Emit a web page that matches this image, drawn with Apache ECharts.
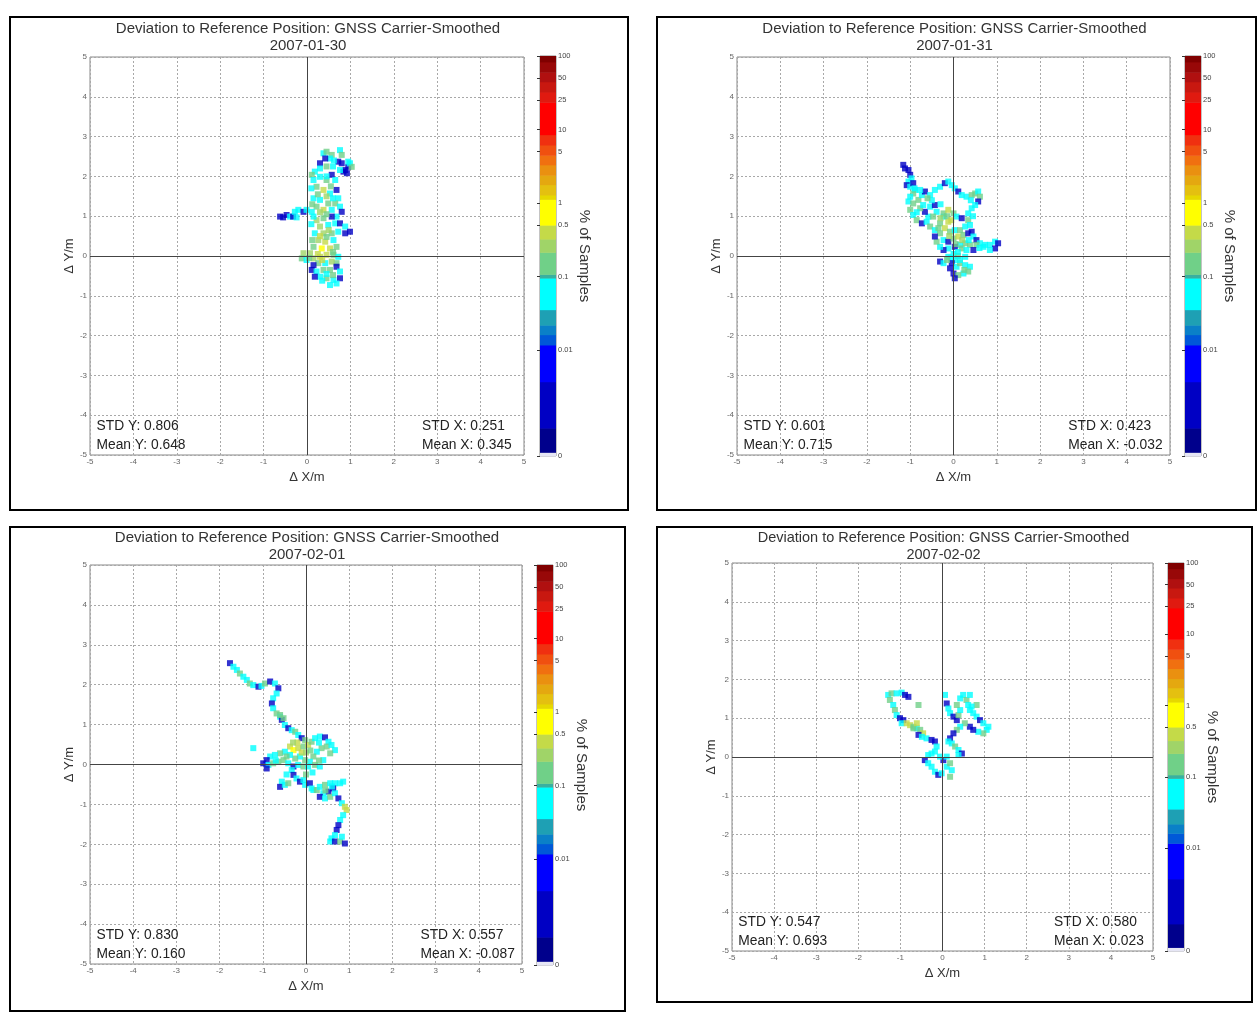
<!DOCTYPE html>
<html>
<head>
<meta charset="utf-8">
<script src="https://cdn.jsdelivr.net/npm/echarts@6/dist/echarts.min.js"></script>
<style>
  html, body { margin: 0; padding: 0; background: #fff; }
  #chart { width: 1258px; height: 1012px; }
</style>
</head>
<body>
<div id="chart"></div>
<script>
// sample share levels (% of samples)
const B = 0.003, T = 0.02, C = 0.06, G = 0.15, L = 0.25, Y = 0.4, W = 0.7;

const dates = ["2007-01-30", "2007-01-31", "2007-02-01", "2007-02-02"];
const stdY = ["0.806", "0.601", "0.830", "0.547"];
const meanY = ["0.648", "0.715", "0.160", "0.693"];
const stdX = ["0.251", "0.423", "0.557", "0.580"];
const meanX = ["0.345", "-0.032", "-0.087", "0.023"];

// [dx, dy, % of samples]
const points0130 = [
  [0.38,2.58,C],[0.45,2.62,G],[0.57,2.54,G],[0.53,2.45,C],[0.42,2.45,B],[0.76,2.66,C],[0.8,2.54,G],
  [0.72,2.37,B],[0.8,2.33,B],[0.88,2.16,B],[0.95,2.24,B],[0.99,2.33,C],[1.03,2.24,G],[0.92,2.08,B],
  [0.84,2.12,B],[0.76,2.16,C],[0.95,2.37,C],[0.3,2.33,B],[0.18,2.12,C],[0.11,2.04,G],[0.15,1.91,C],
  [0.3,1.99,C],[0.45,1.91,G],[0.57,2.04,B],[0.65,1.91,C],[0.22,1.74,G],[0.38,1.66,Y],[0.53,1.57,C],
  [0.68,1.66,B],[0.72,1.45,C],[0.65,1.32,G],[0.49,1.32,G],[0.3,1.41,C],[0.15,1.45,C],[0.22,1.24,G],
  [0.38,1.16,Y],[0.57,1.16,C],[0.76,1.24,C],[0.8,1.11,B],[0.68,0.99,C],[0.57,0.99,B],[0.38,0.95,G],
  [0.22,0.9,L],[0.15,0.99,C],[0.3,0.74,L],[0.49,0.78,C],[0.65,0.82,C],[0.76,0.82,B],[0.88,0.74,C],
  [0.99,0.61,B],[0.88,0.57,B],[0.72,0.61,C],[0.57,0.57,G],[0.38,0.57,L],[0.18,0.57,C],[0.26,0.4,L],
  [0.42,0.36,Y],[0.61,0.4,C],[0.68,0.23,G],[0.53,0.19,Y],[0.34,0.19,W],[0.15,0.23,G],[0.07,0.07,L],
  [-0.08,0.07,L],[-0.12,-0.06,G],[-0.01,-0.1,C],[0.15,-0.06,L],[0.3,-0.02,Y],[0.45,0.03,Y],[0.61,0.03,G],
  [0.72,-0.02,C],[0.68,-0.18,G],[0.57,-0.14,L],[0.42,-0.18,C],[0.26,-0.18,G],[0.15,-0.23,B],[0.11,-0.35,B],
  [0.22,-0.39,C],[0.38,-0.35,G],[0.53,-0.35,G],[0.68,-0.27,B],[0.76,-0.39,C],[0.76,-0.56,B],[0.61,-0.6,C],
  [0.45,-0.56,G],[0.3,-0.52,C],[0.18,-0.52,B],[0.53,-0.73,C],[0.68,-0.69,C],
  [-0.62,0.99,B],[-0.55,0.97,B],[-0.47,1.03,B],[-0.39,0.99,C],[-0.32,0.99,B],[-0.24,0.97,C],[-0.28,1.11,C],
  [-0.2,1.16,C],[-0.08,1.11,B],[-0.01,1.16,C],[0.11,1.11,C],
  [0.3,2.2,C],[0.45,2.25,G],[0.6,2.25,C],[0.45,2.0,C],[0.25,1.55,G],[0.45,1.5,L],[0.6,1.45,C],[0.3,1.1,L],
  [0.45,1.05,G],[0.5,0.65,L],[0.3,0.5,Y],[0.45,0.48,G],[0.6,0.1,G],[0.25,0.05,Y],[0.05,-0.05,G],[0.35,-0.1,Y],
  [0.45,-0.45,C],[0.6,-0.48,G],[0.35,-0.62,C],[0.1,1.7,C],[0.12,1.3,G],[0.1,0.8,C],[0.12,0.4,G],[0.55,1.75,G],
  [0.62,2.4,C]
];
const points0131 = [
  [-1.16,2.29,B],[-1.12,2.2,B],[-1.04,2.16,B],[-1.0,2.04,B],[-0.97,1.95,C],[-1.04,1.87,C],[-1.08,1.78,B],
  [-1.0,1.74,C],[-0.93,1.83,B],[-0.89,1.66,C],[-0.93,1.57,G],[-1.0,1.49,C],[-1.04,1.37,C],[-0.93,1.32,G],
  [-0.81,1.41,G],[-0.73,1.53,C],[-0.66,1.62,B],[-0.77,1.66,C],
  [-0.54,1.53,C],[-0.43,1.66,C],[-0.31,1.74,C],[-0.2,1.83,B],[-0.12,1.87,C],[-0.04,1.78,C],[0.03,1.7,C],
  [0.11,1.62,B],[0.19,1.53,C],[0.3,1.49,C],[0.42,1.53,G],[0.5,1.57,G],[0.57,1.62,C],[0.61,1.49,G],
  [0.57,1.37,B],[0.5,1.28,C],[0.42,1.2,C],[0.34,1.07,C],[0.34,0.9,G],[0.38,0.78,C],
  [-1.0,1.16,G],[-0.93,1.03,C],[-0.85,0.9,G],[-0.73,0.82,B],[-0.62,0.86,C],[-0.58,0.99,C],[-0.66,1.11,B],
  [-0.77,1.2,G],[-0.7,1.28,C],[-0.54,1.24,C],[-0.43,1.28,B],[-0.39,1.11,C],[-0.47,0.99,G],[-0.54,0.74,G],
  [-0.43,0.65,C],[-0.31,0.82,G],[-0.23,0.99,C],
  [-0.23,1.07,G],[-0.12,1.16,Y],[0,1.07,G],[0.07,0.99,C],[0.19,0.95,B],[-0.12,0.86,Y],[-0.2,0.7,Y],
  [-0.08,0.61,G],[0.03,0.65,C],[0.15,0.65,G],[0.27,0.74,C],[-0.31,0.57,G],[-0.23,0.4,C],[-0.12,0.36,B],
  [0,0.44,G],[0.11,0.49,Y],[0.23,0.53,G],[0.34,0.57,B],[0.42,0.61,B],[0.46,0.49,C],[0.53,0.4,B],
  [0.61,0.32,C],[0.73,0.28,C],[0.84,0.28,C],[0.96,0.36,C],[1.03,0.32,B],[0.96,0.19,B],[0.84,0.15,C],
  [0.69,0.23,C],[0.53,0.28,G],[0.38,0.28,G],[0.27,0.32,G],[0.15,0.28,C],[0.03,0.23,B],[-0.12,0.19,C],
  [-0.23,0.15,B],[-0.31,0.23,C],[-0.39,0.36,G],[-0.43,0.49,B],[0.19,0.19,G],[0.3,0.15,C],[0.46,0.15,B],
  [0,0.05,C],[0.1,0.0,G],[-0.05,-0.05,C],
  [0.03,-0.1,C],[-0.04,-0.18,B],[-0.08,-0.31,B],[0,-0.44,B],[0.07,-0.27,C],[0.15,-0.18,G],[0.27,-0.23,C],
  [0.38,-0.27,C],[0.34,-0.39,G],[0.23,-0.44,C],[0.11,-0.48,G],[0.03,-0.56,B],[-0.31,-0.14,B],[-0.23,-0.18,C],
  [-0.12,-0.02,C],[0.27,-0.02,C],
  [-0.5,1.4,C],[-0.6,1.45,G],[-0.3,1.3,C],[-0.15,1.0,G],[-0.05,0.9,Y],[-0.3,0.95,L],[-0.35,0.7,G],[-0.1,0.5,L],
  [0.05,0.3,G],[0.1,0.1,C],[0.2,0.4,L],[0.35,0.4,C],[0.15,-0.1,C],[-0.15,-0.1,G],[0.25,-0.35,G],[0.6,0.2,C],
  [0.4,1.4,C],[0.45,1.0,C],[-0.85,1.1,C],[-0.9,1.7,C]
];
const points0201 = [
  [-1.76,2.54,B],[-1.68,2.45,C],[-1.6,2.37,C],[-1.53,2.28,G],[-1.45,2.2,C],[-1.37,2.12,C],[-1.3,2.03,G],
  [-1.22,1.99,C],[-1.1,1.95,B],[-1.03,1.97,C],[-0.95,2.03,G],[-0.83,2.08,B],[-0.72,2.03,C],[-0.64,1.91,B],
  [-0.68,1.78,C],[-0.76,1.66,C],[-0.79,1.53,B],[-0.76,1.41,C],[-0.68,1.28,G],[-0.6,1.2,C],[-0.56,1.12,B],
  [-0.49,0.99,C],[-0.41,0.91,B],[-0.33,0.86,C],[-0.25,0.82,G],[-0.18,0.74,C],[-0.1,0.66,B],[-0.02,0.61,G],
  [-0.6,1.24,G],[-0.52,1.16,G],
  [-0.37,0.45,Y],[-0.29,0.36,W],[-0.18,0.41,Y],[-0.06,0.45,G],[0.05,0.49,Y],[0.13,0.57,G],[0.21,0.66,C],
  [0.32,0.7,C],[0.44,0.68,B],[0.52,0.57,C],[0.48,0.45,G],[0.36,0.41,G],[0.25,0.32,C],[0.17,0.2,G],
  [0.09,0.07,C],[-0.02,0.11,G],[-0.14,0.2,C],[-0.25,0.15,G],[-0.37,0.24,C],[-0.49,0.32,C],[-0.6,0.28,G],
  [-0.72,0.24,C],[-0.83,0.2,C],[-0.91,0.11,B],[-0.99,0.03,B],[-0.87,-0.01,C],[-0.76,0.03,G],[-0.64,0.07,G],
  [-0.52,0.11,G],[-0.41,0.03,C],[-0.29,-0.05,B],[-0.18,-0.01,C],[-0.06,-0.05,G],[0.05,-0.05,C],[0.21,-0.01,G],
  [0.32,-0.05,C],[0.4,0.11,C],[0.59,0.49,C],[0.67,0.36,C],[-1.22,0.41,C],[0.56,0.28,G],
  [-0.91,-0.1,B],[-0.33,-0.14,C],[-0.29,-0.26,B],[-0.22,-0.35,C],[-0.14,-0.43,B],[-0.06,-0.39,C],[-0.56,-0.43,C],
  [-0.6,-0.56,B],[-0.49,-0.51,C],[-0.41,-0.47,G],[-0.02,-0.51,C],[0.09,-0.47,B],[0.13,-0.6,C],[0.17,-0.64,C],
  [0.25,-0.64,G],[0.32,-0.56,C],[0.44,-0.51,G],[0.56,-0.47,C],[0.67,-0.47,C],[0.79,-0.47,C],[0.86,-0.43,C],
  [0.63,-0.6,B],[0.52,-0.68,B],[0.4,-0.72,C],[0.32,-0.81,B],[0.44,-0.85,C],[0.56,-0.81,G],[0.67,-0.72,C],
  [0.75,-0.85,B],[0.83,-0.97,C],[0.9,-1.06,Y],[0.94,-1.14,Y],[0.86,-1.27,C],[0.79,-1.39,C],[0.75,-1.52,B],
  [0.71,-1.64,B],[0.67,-1.77,C],[0.59,-1.85,C],[0.56,-1.93,C],[0.67,-1.93,B],[0.79,-1.93,G],[0.9,-1.98,B],
  [0.83,-1.81,C],
  [-0.2,0.55,Y],[-0.1,0.3,Y],[0.0,0.3,L],[-0.3,0.55,L],[0.1,0.35,G],[0.3,0.55,C],[-0.45,0.2,G],[-0.7,0.1,C],
  [0.3,0.1,G],[0.15,-0.2,C],[-0.45,-0.25,C],[0.0,-0.25,G],[0.6,-0.55,C],[0.45,-0.65,G]
];
const points0202 = [
  [-1.29,1.6,C],[-1.21,1.64,G],[-1.09,1.64,C],[-0.97,1.66,C],[-0.89,1.6,B],[-0.81,1.55,B],[-1.25,1.47,G],
  [-1.17,1.34,C],[-1.13,1.21,G],[-1.09,1.08,C],[-1.01,1.0,B],[-0.93,0.95,B],[-0.97,0.87,C],[-0.85,0.87,Y],
  [-0.77,0.82,Y],[-0.69,0.78,G],[-0.61,0.74,C],[-0.53,0.7,G],[-0.46,0.61,Y],[-0.57,0.57,B],[-0.49,0.52,C],
  [-0.38,0.48,C],[-0.26,0.44,B],[-0.18,0.4,B],[-0.14,0.27,C],[-0.18,0.14,C],[-0.26,0.09,C],[-0.34,0.05,C],
  [-0.42,-0.08,B],[-0.34,-0.16,C],[-0.26,-0.25,C],[-0.18,-0.38,C],[-0.1,-0.46,B],[-0.02,-0.42,C],[0.1,-0.25,C],
  [0.18,-0.16,G],[0.22,-0.34,C],[0.18,-0.51,G],[0.02,-0.08,B],[-0.06,0.01,C],[0.1,0.01,C],[-0.57,1.34,G],
  [-0.69,0.74,G],[-0.61,0.87,Y],
  [0.06,1.6,C],[0.1,1.38,B],[0.14,1.25,C],[0.18,1.13,C],[0.26,1.04,B],[0.34,0.95,B],[0.38,1.08,G],
  [0.42,1.21,C],[0.34,1.34,G],[0.42,1.51,C],[0.49,1.6,C],[0.57,1.47,G],[0.61,1.34,C],[0.65,1.21,C],
  [0.73,1.13,C],[0.81,1.04,C],[0.89,0.95,B],[0.97,0.87,C],[1.09,0.78,C],[1.05,0.7,C],[0.97,0.61,G],
  [0.85,0.65,C],[0.73,0.7,B],[0.65,0.78,B],[0.53,0.87,G],[0.42,0.78,C],[0.34,0.7,G],[0.26,0.61,B],
  [0.18,0.48,B],[0.14,0.4,C],[0.22,0.35,C],[0.3,0.27,G],[0.38,0.18,C],[0.46,0.09,B],[0.38,0.05,C],
  [0.65,1.6,C],[0.81,1.34,G],[0.69,1.3,C]
];
const allPoints = [points0130, points0131, points0201, points0202];

// colorbar: band edges in log10(% of samples), colours bottom -> top
const cbEdges = [-3.44,-3.39,-3.06,-2.43,-1.93,-1.79,-1.66,-1.45,-1.02,-0.97,-0.67,-0.49,-0.30,0.05,
  0.11,0.25,0.38,0.52,0.65,0.79,0.93,1.37,1.51,1.65,1.78,1.92,2.0];
const cbColors = ["#e6e6f5","#00008c","#0000c4","#0000ff","#0058d8","#0a80c8","#1ea0b4","#00ffff","#38b0a0",
  "#70d088","#a0d468","#c4da48","#ffff00","#e6d800","#e4c010","#e4a810","#ea9010","#f07010","#f05010",
  "#f03010","#ff0000","#e01a10","#c81810","#b01010","#980808","#800000"];
const cbTickValues = [100, 50, 25, 10, 5, 1, 0.5, 0.1, 0.01, 0];
const cbTickLabels = ["100", "50", "25", "10", "5", "1", "0.5", "0.1", "0.01", "0"];

const FONT = "'Liberation Sans', Arial, sans-serif";
const cbMin = cbEdges[0], cbMax = cbEdges[cbEdges.length - 1];
const toLog = v => (v <= 0 ? cbMin : Math.log10(v));
const cbTickLogs = cbTickValues.map(toLog);

function bandColor(pct) {
  const v = toLog(pct);
  for (let k = 0; k < cbColors.length; k++) {
    if (v < cbEdges[k + 1]) return cbColors[k];
  }
  return cbColors[cbColors.length - 1];
}

// panel layout (px)
const panels = [
  { frame: [10, 17, 618, 493], grid: [90, 57, 434, 398], cb: [540, 56, 16, 400], titleTop: 15 },
  { frame: [657, 17, 599, 493], grid: [737, 57, 433, 398], cb: [1185, 56, 16, 400], titleTop: 15 },
  { frame: [10, 527, 615, 484], grid: [90, 565, 432, 399], cb: [537, 565, 16, 400], titleTop: 524 },
  { frame: [657, 527, 595, 475], grid: [732, 563, 421, 388], cb: [1168, 563, 16, 388], titleTop: 524 }
];

const grids = [], xAxes = [], yAxes = [], series = [], titles = [], frames = [];

panels.forEach((p, i) => {
  const [gl, gt, gw, gh] = p.grid;
  grids.push({ left: gl, top: gt, width: gw, height: gh, show: true, borderColor: "#888", borderWidth: 1 });
  titles.push({
    text: "Deviation to Reference Position: GNSS Carrier-Smoothed\n" + dates[i],
    left: gl + gw / 2 - 4, top: p.titleTop, textAlign: "center",
    textStyle: { fontSize: i === 3 ? 14.5 : 15, fontWeight: "normal", color: "#333", lineHeight: 17, fontFamily: FONT, align: "center" }
  });
  const mainAxis = (name, gap, rot) => ({
    type: "value", gridIndex: i, min: -5, max: 5, interval: 1,
    axisLine: { show: false }, axisTick: { show: false },
    axisLabel: { fontSize: 8, color: "#666", margin: 3, fontFamily: FONT },
    splitLine: { show: true, lineStyle: { color: "#a8a8a8", type: [2, 2], width: 1 } },
    name: name, nameLocation: "middle", nameGap: gap, nameRotate: rot,
    nameTextStyle: { fontSize: 13, color: "#333", fontFamily: FONT }
  });
  xAxes.push(mainAxis("\u0394 X/m", 16, 0));
  yAxes.push(mainAxis("\u0394 Y/m", 13, 90));
  series.push({
    type: "scatter", xAxisIndex: i, yAxisIndex: i,
    symbol: "rect", symbolSize: 6,
    data: allPoints[i],
    itemStyle: { color: d => bandColor(d.value[2]) },
    markLine: {
      silent: true, symbol: "none", label: { show: false },
      lineStyle: { color: "#444", type: "solid", width: 1 },
      data: [{ xAxis: 0 }, { yAxis: 0 }]
    }
  });
  const [fl, ft, fw, fh] = p.frame;
  frames.push({ type: "rect", shape: { x: fl, y: ft, width: fw, height: fh }, style: { fill: "none", stroke: "#000", lineWidth: 2 }, silent: true });
});

// colorbars
panels.forEach((p, i) => {
  const [cl, ct, cw, ch] = p.cb;
  grids.push({ left: cl, top: ct, width: cw, height: ch, show: true, borderColor: "#888", borderWidth: 1 });
  xAxes.push({ type: "value", gridIndex: 4 + i, min: 0, max: 1, show: false });
  yAxes.push({
    type: "value", gridIndex: 4 + i, position: "right", min: cbMin, max: cbMax,
    axisLine: { show: false },
    axisTick: { show: true, inside: true, length: 3, customValues: cbTickLogs, lineStyle: { color: "#333" } },
    axisLabel: {
      customValues: cbTickLogs, fontSize: 7.5, color: "#444", margin: 2, fontFamily: FONT,
      formatter: v => {
        const k = cbTickLogs.findIndex(t => Math.abs(t - v) < 1e-6);
        return k >= 0 ? cbTickLabels[k] : "";
      }
    },
    splitLine: { show: false },
    name: "% of Samples", nameLocation: "middle", nameRotate: -90, nameGap: 14,
    nameTextStyle: { fontSize: 15, color: "#333", fontFamily: FONT }
  });
  series.push({
    type: "custom", xAxisIndex: 4 + i, yAxisIndex: 4 + i,
    data: cbColors.map((c, k) => [cbEdges[k], cbEdges[k + 1], k]),
    encode: { y: [0, 1] },
    renderItem: (params, api) => {
      const lo = api.coord([0, api.value(0)]);
      const hi = api.coord([1, api.value(1)]);
      return {
        type: "rect",
        shape: { x: lo[0], y: hi[1], width: hi[0] - lo[0], height: lo[1] - hi[1] + 0.5 },
        style: { fill: cbColors[api.value(2)] }
      };
    },
    z: 1
  });
});

const chart = echarts.init(document.getElementById("chart"));
chart.setOption({
  animation: false,
  backgroundColor: "#fff",
  title: titles,
  grid: grids,
  xAxis: xAxes,
  yAxis: yAxes,
  series: series
});

// statistics text, placed in data coordinates of each panel
const statTexts = [];
panels.forEach((p, i) => {
  const items = [
    [-4.85, -4.27, "STD Y: " + stdY[i]],
    [-4.85, -4.75, "Mean Y: " + meanY[i]],
    [2.65, -4.27, "STD X: " + stdX[i]],
    [2.65, -4.75, "Mean X: " + meanX[i]]
  ];
  items.forEach(([x, y, t]) => {
    const pt = chart.convertToPixel({ gridIndex: i }, [x, y]);
    statTexts.push({
      type: "text", x: pt[0], y: pt[1], silent: true, z: 10,
      style: { text: t, fontSize: 13.8, fill: "#222", fontFamily: FONT, verticalAlign: "middle" }
    });
  });
});
chart.setOption({ graphic: frames.concat(statTexts) });
</script>
</body>
</html>
